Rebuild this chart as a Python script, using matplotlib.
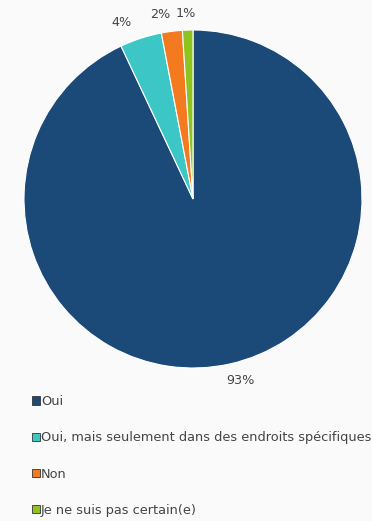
import matplotlib.pyplot as plt
from matplotlib.patches import Patch

labels = ['Oui', 'Oui, mais seulement dans des endroits spécifiques', 'Non',
          'Je ne suis pas certain(e)']
values = [93, 4, 2, 1]
colors = ['#1b4a78', '#3cc6c6', '#f47a1f', '#8fc31f']

W, H = 372, 521
fig = plt.figure(figsize=(W / 100, H / 100), dpi=100, facecolor='#f9faf9')

# pie centre at (193, 199) px, radius 169 px
cx, cy, r = 193, 199, 169
ax = fig.add_axes([(cx - r) / W, 1 - (cy + r) / H, 2 * r / W, 2 * r / H])
ax.set_facecolor('none')
wedges, texts = ax.pie(values, colors=colors, startangle=90, counterclock=False,
                       labels=[f'{v}%' for v in values], labeldistance=1.1,
                       wedgeprops=dict(edgecolor='white', linewidth=0.8),
                       textprops=dict(fontsize=9.2, color='#444444'))
for t in texts:
    t.set_ha('center')
    t.set_va('center')
# spread the labels so the small-slice ones don't collide
for t, dx in zip(texts, [0.04, -0.085, -0.055, -0.008]):
    x, y = t.get_position()
    t.set_position((x + dx, y))
ax.set_xlim(-1, 1)
ax.set_ylim(-1, 1)
ax.set_aspect('equal')
ax.axis('off')

handles = [Patch(facecolor=c, edgecolor='#333333', linewidth=0.6) for c in colors]
fig.legend(handles, labels, loc='upper left', bbox_to_anchor=(32 / W, 1 - 395 / H),
           frameon=False, fontsize=9.3, labelspacing=1.8, handlelength=0.6,
           handleheight=0.6, handletextpad=0.1, borderaxespad=0, borderpad=0,
           labelcolor='#444444')

fig.savefig('out.png', dpi=100, facecolor=fig.get_facecolor())
